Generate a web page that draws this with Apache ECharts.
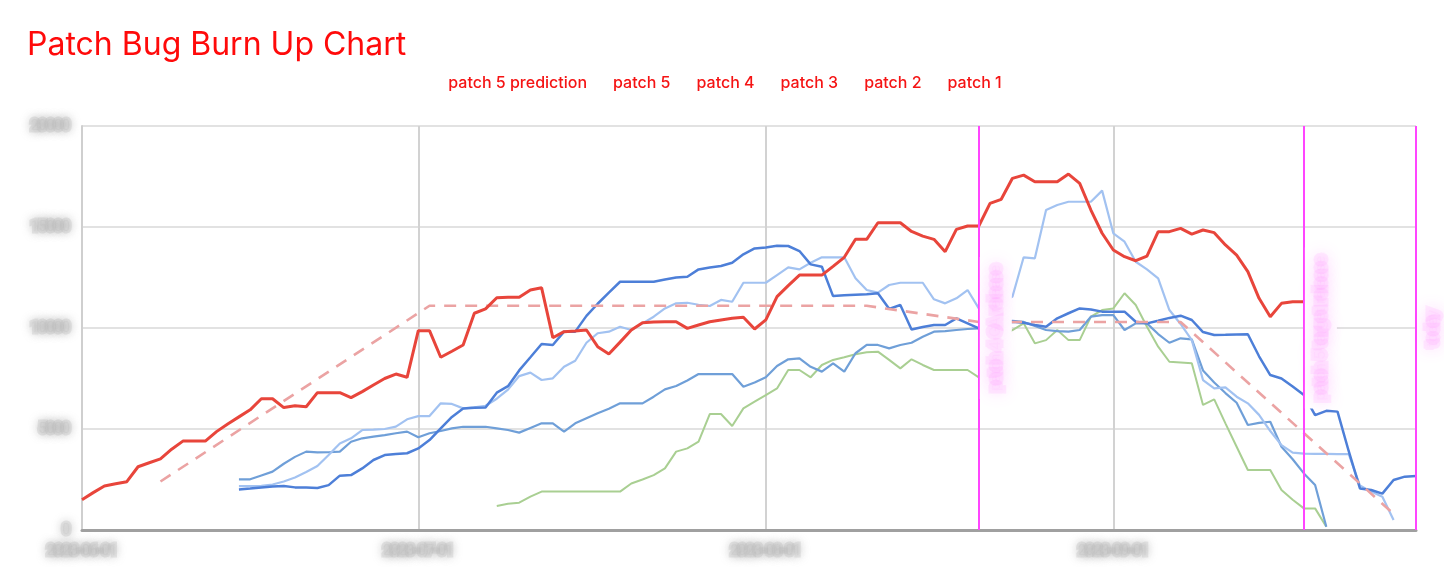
<!DOCTYPE html>
<html>
<head>
<meta charset="utf-8">
<script src="https://cdn.jsdelivr.net/npm/echarts@6/dist/echarts.min.js"></script>
<style>
html,body{margin:0;padding:0;background:#fff;}
#chart{width:1444px;height:584px;}
</style>
</head>
<body>
<div id="chart"></div>
<script>
// ---- categories (one per day) ----
const dayCount = 120;
const categories = [];
for (let i = 0; i < dayCount; i++) {
  const d = new Date(Date.UTC(2023, 5, 1 + i));
  categories.push(d.toISOString().slice(0, 10));
}
const monthStarts = ['2023-06-01', '2023-07-01', '2023-08-01', '2023-09-01'];
const yTicks = [0, 5000, 10000, 15000, 20000];

// ---- series values ----
const patch5Start = '2023-06-01';
const patch5 = [
  1500, 1850, 2180, 2290, 2390, 3130, 3330, 3520, 4000, 4400,
  4400, 4400, 4870, 5250, 5600, 5950, 6500, 6500, 6060, 6150,
  6100, 6800, 6800, 6800, 6550, 6850, 7180, 7500, 7720, 7560,
  9870, 9870, 8550, 8850, 9160, 10730, 10950, 11500, 11520, 11520,
  11880, 11990, 9520, 9820, 9850, 9900, 9075, 8710, 9300, 9900,
  10260, 10300, 10310, 10310, 9980, 10150, 10310, 10400, 10480, 10530,
  9950, 10400, 11550, 12100, 12620, 12620, 12620, 13050, 13500, 14390,
  14390, 15210, 15210, 15210, 14780, 14550, 14390, 13780, 14880, 15050,
  15050, 16170, 16370, 17410, 17570, 17240, 17240, 17240, 17620, 17160,
  15840, 14690, 13860, 13530, 13330, 13560, 14770, 14770, 14930, 14650,
  14850, 14720, 14110, 13610, 12790, 11470, 10560, 11220, 11300, 11300
];

const patch4Start = '2023-06-15';
const patch4 = [
  2010, 2050, 2100, 2150, 2180, 2110, 2100, 2080, 2220, 2690,
  2720, 3050, 3465, 3710, 3760, 3800, 4040, 4455, 5030, 5600,
  6020, 6050, 6070, 6800, 7120, 7900, 8550, 9210, 9160, 9820,
  9820, 10600, 11200, 11750, 12290, 12290, 12290, 12290, 12400, 12500,
  12540, 12900, 13000, 13070, 13230, 13650, 13940, 13990, 14070, 14060,
  13810, 13150, 13030, 11580, 11620, 11650, 11670, 11720, 10950, 11140,
  9930, 10050, 10150, 10150, 10480, 10230, 9980, 10100, 10250, 10310,
  10260, 10150, 10060, 10480, 10730, 10970, 10920, 10810, 10810, 10810,
  10310, 10230, 10360, 10500, 10610, 10395, 9800, 9650, 9660, 9680,
  9690, 8600, 7670, 7500, 7100, 6680, 5690, 5900, 5860, 3900,
  2060, 1980, 1800, 2475, 2640, 2670
];

const patch3Start = '2023-06-15';
const patch3 = [
  2170, 2170, 2180, 2250, 2400, 2600, 2870, 3170, 3710, 4280,
  4540, 4950, 4970, 5000, 5120, 5480, 5640, 5640, 6270, 6240,
  6020, 6070, 6150, 6500, 6950, 7620, 7790, 7425, 7510, 8080,
  8380, 9270, 9740, 9820, 10060, 9900, 10230, 10560, 10970, 11220,
  11250, 11150, 11090, 11390, 11300, 12240, 12240, 12240, 12620, 13000,
  12900, 13230, 13500, 13500, 13500, 12460, 11880, 11750, 12130, 12240,
  12240, 12240, 11420, 11220, 11470, 11880, 10970, 11000, 11200, 11550,
  13500, 13450, 15840, 16090, 16250, 16250, 16250, 16800, 14690, 14270,
  13280, 12900, 12460, 10890, 10200, 9400, 7425, 7010, 7060, 6600,
  6270, 5700, 4900, 4200, 3830, 3780, 3770, 3770, 3760, 3760,
  2200, 1900, 1650, 500
];

const patch2Start = '2023-06-15';
const patch2 = [
  2510, 2510, 2700, 2890, 3280, 3620, 3880, 3840, 3850, 3880,
  4370, 4540, 4620, 4700, 4790, 4870, 4590, 4790, 4900, 5030,
  5110, 5110, 5110, 5030, 4950, 4820, 5050, 5280, 5280, 4870,
  5280, 5530, 5780, 6000, 6270, 6270, 6270, 6600, 6960, 7130,
  7400, 7720, 7720, 7720, 7720, 7090, 7300, 7560, 8120, 8450,
  8500, 8080, 7840, 8250, 7840, 8750, 9160, 9160, 8990, 9160,
  9270, 9570, 9820, 9850, 9900, 9950, 9980, 10100, 10250, 10360,
  10300, 10100, 9900, 9850, 9820, 9900, 10560, 10640, 10640, 9900,
  10230, 10230, 9700, 9270, 9490, 9440, 7900, 7300, 6780, 6300,
  5200, 5300, 5360, 4120, 3500, 2800, 2230, 165
];

const patch1Start = '2023-07-08';
const patch1 = [
  1190, 1300, 1350, 1650, 1900, 1900, 1900, 1900, 1900, 1900,
  1900, 1900, 2300, 2500, 2720, 3050, 3880, 4040, 4370, 5740,
  5740, 5150, 6020, 6350, 6680, 7010, 7920, 7920, 7560, 8170,
  8420, 8550, 8700, 8800, 8830, 8420, 8000, 8450, 8170, 7920,
  7920, 7920, 7920, 7560, 8500, 9500, 9900, 10230, 9240, 9400,
  9900, 9400, 9400, 10560, 10890, 10970, 11720, 11140, 10060, 9075,
  8330, 8290, 8250, 6190, 6470, 5280, 4120, 2970, 2970, 2970,
  1980, 1500, 1070, 1070, 165
];

const predictionDates = ['2023-06-08', '2023-07-02', '2023-08-10', '2023-08-20', '2023-09-07', '2023-09-26'];
const predictionValues = [2400, 11100, 11100, 10300, 10300, 800];

const markerDates = ['2023-08-20', '2023-09-18', '2023-09-28'];
const markerTexts = ['patch 4 GA release', 'patch 5 target release', 'today'];

const legendNames = ['patch 5 prediction', 'patch 5', 'patch 4', 'patch 3', 'patch 2', 'patch 1'];

// ---- build ----
function pad(start, values) {
  const i = categories.indexOf(start);
  return new Array(i).fill(null).concat(values);
}
const predictionData = predictionDates.map((d, i) => [d, predictionValues[i]]);
const isMonthStart = (idx, val) => monthStarts.indexOf(val) >= 0;

const blurLabel = {
  color: 'rgba(185,185,185,0.18)',
  fontSize: 14,
  fontFamily: 'Roboto',
  textBorderColor: 'rgba(190,190,190,0.32)',
  textBorderWidth: 5,
  textShadowColor: 'rgba(135,135,135,1)',
  textShadowBlur: 10
};

const chart = echarts.init(document.getElementById('chart'), null, { renderer: 'canvas' });
chart.setOption({
  animation: false,
  backgroundColor: '#ffffff',
  title: {
    text: 'Patch Bug Burn Up Chart',
    left: 22,
    top: 24,
    textStyle: { color: '#ff0a0a', fontSize: 32, fontWeight: 'normal', fontFamily: 'Inter' }
  },
  legend: {
    data: legendNames,
    top: 70,
    left: 'center',
    itemWidth: 0,
    itemHeight: 0,
    itemGap: 20,
    textStyle: { color: '#f51414', fontSize: 16, fontWeight: 500, fontFamily: 'Inter' }
  },
  grid: { left: 82, right: 28, top: 126, bottom: 54, containLabel: false },
  xAxis: {
    type: 'category',
    data: categories,
    boundaryGap: false,
    axisLine: { show: true, lineStyle: { color: '#a0a0a0', width: 3 } },
    axisTick: { show: false },
    axisLabel: Object.assign({ interval: isMonthStart, margin: 14 }, blurLabel),
    splitLine: { show: true, interval: isMonthStart, lineStyle: { color: '#d2d2d2', width: 2 } }
  },
  yAxis: {
    type: 'value',
    min: yTicks[0],
    max: yTicks[yTicks.length - 1],
    interval: 5000,
    axisLine: { show: true, lineStyle: { color: '#cfcfcf', width: 2 } },
    axisTick: { show: false },
    axisLabel: Object.assign({ margin: 12, formatter: (v) => String(v) }, blurLabel),
    splitLine: { lineStyle: { color: '#e2e2e2', width: 2 } }
  },
  series: [
    { name: 'patch 1', type: 'line', data: pad(patch1Start, patch1), showSymbol: false,
      lineStyle: { color: '#a9cf92', width: 2 }, itemStyle: { color: '#a9cf92' } },
    { name: 'patch 2', type: 'line', data: pad(patch2Start, patch2), showSymbol: false,
      lineStyle: { color: '#6f9fd8', width: 2.2 }, itemStyle: { color: '#6f9fd8' } },
    { name: 'patch 3', type: 'line', data: pad(patch3Start, patch3), showSymbol: false,
      lineStyle: { color: '#a2c2f1', width: 2.2 }, itemStyle: { color: '#a2c2f1' } },
    { name: 'patch 4', type: 'line', data: pad(patch4Start, patch4), showSymbol: false,
      lineStyle: { color: '#4d7fd8', width: 2.5 }, itemStyle: { color: '#4d7fd8' } },
    { name: 'patch 5 prediction', type: 'line', data: predictionData, showSymbol: false,
      lineStyle: { color: '#eba3a3', width: 2.6, type: [12, 9] }, itemStyle: { color: '#eba3a3' } },
    { name: 'patch 5', type: 'line', data: pad(patch5Start, patch5), showSymbol: false,
      lineStyle: { color: '#e8453b', width: 3 }, itemStyle: { color: '#e8453b' } },
    { name: 'markers', type: 'line', data: [], z: 10, silent: true,
      markLine: {
        symbol: 'none',
        silent: true,
        lineStyle: { color: '#ff45ff', width: 2, type: 'solid' },
        label: {
          show: true,
          position: 'insideMiddleBottom',
          distance: 1,
          color: 'rgba(255,150,255,0.08)',
          fontSize: 14,
          fontFamily: 'Inter',
          textBorderColor: 'rgba(255,150,255,0.16)',
          textBorderWidth: 7,
          textShadowColor: 'rgba(255,100,255,1)',
          textShadowBlur: 16,
          backgroundColor: '#ffffff',
          padding: [9, 8]
        },
        data: markerDates.map((d, i) => ({ xAxis: d, label: { formatter: markerTexts[i] } }))
      }
    }
  ]
});
</script>
</body>
</html>
